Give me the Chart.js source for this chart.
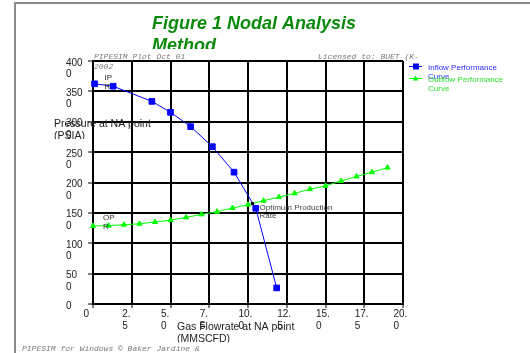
<!DOCTYPE html>
<html>
<head>
<meta charset="utf-8">
<script src="https://cdn.jsdelivr.net/npm/chart.js@4.4.1/dist/chart.umd.min.js"></script>
<style>
  html, body { margin: 0; padding: 0; background: #fff; }
  canvas { display: block; }
</style>
</head>
<body>
<canvas id="nodal" width="530" height="353"></canvas>
<script>
// Inflow performance curve (reservoir side)
const iprRate = [0.1, 1.3, 3.8, 5.0, 6.3, 7.7, 9.1, 10.5, 11.85];
const iprPressure = [3625, 3585, 3335, 3155, 2920, 2590, 2170, 1575, 265];

// Outflow performance curve (tubing side)
const oprRate = [0, 1, 2, 3, 4, 5, 6, 7, 8, 9, 10, 11, 12, 13, 14, 15, 16, 17, 18, 19];
const oprPressure = [1285, 1290, 1305, 1320, 1350, 1380, 1425, 1475, 1520, 1580,
                     1635, 1700, 1760, 1820, 1890, 1945, 2025, 2100, 2170, 2245];

// Intersection of the two curves
const optimumRate = [10.29];
const optimumPressure = [1652];

// Axis tick labels, wrapped the way the plotting package prints them
const rateTickLabels = [['0', ''], ['2.', '5'], ['5.', '0'], ['7.', '5'], ['10.', '0'],
                        ['12.', '5'], ['15.', '0'], ['17.', '5'], ['20.', '0']];
const pressureTickLabels = [['0', ''], ['50', '0'], ['100', '0'], ['150', '0'], ['200', '0'],
                            ['250', '0'], ['300', '0'], ['350', '0'], ['400', '0']];

const seriesNames = ['Inflow Performance Curve', 'Outflow Performance Curve'];
const SANS = '"Liberation Sans", Arial, sans-serif';
const MONO = '"Liberation Mono", "Courier New", monospace';

function toPoints(xs, ys) { return xs.map((x, i) => ({ x: x, y: ys[i] })); }

function lines(ctx, arr, x, y0, step, font, color, align) {
  ctx.font = font;
  ctx.fillStyle = color;
  ctx.textAlign = align || 'left';
  ctx.textBaseline = 'middle';
  arr.forEach((s, i) => ctx.fillText(s, x, y0 + i * step));
}

const decorations = {
  id: 'decorations',
  afterDraw(chart) {
    const ctx = chart.ctx;
    const xs = chart.scales.x, ys = chart.scales.y;
    ctx.save();

    // page frame
    ctx.strokeStyle = '#8a8a8a';
    ctx.lineWidth = 2;
    ctx.beginPath();
    ctx.moveTo(15, 353); ctx.lineTo(15, 3); ctx.lineTo(530, 3);
    ctx.stroke();

    // title, second line cut by its text box
    ctx.font = 'italic bold 18px ' + SANS;
    ctx.fillStyle = '#0a8a0a';
    ctx.textAlign = 'left';
    ctx.textBaseline = 'alphabetic';
    ctx.fillText('Figure 1 Nodal Analysis', 152, 29);
    ctx.save();
    ctx.beginPath(); ctx.rect(0, 0, 530, 49); ctx.clip();
    ctx.fillText('Method', 152, 50.5);
    ctx.restore();

    // plot stamp lines
    const stamp = 'italic 8px ' + MONO;
    lines(ctx, ['PIPESIM Plot Oct 01', '2002'], 94, 57, 9.5, stamp, '#7a7a7a');
    lines(ctx, ['Licensed to: BUET (K-'], 318, 57, 9.5, stamp, '#7a7a7a');
    lines(ctx, ['PIPESIM for Windows \u00a9 Baker Jardine &'], 22, 348.5, 9.5, stamp, '#7a7a7a');

    // axis titles, second lines cut by their text boxes
    const axisFont = '10.5px ' + SANS;
    lines(ctx, ['Pressure at NA point'], 54, 124, 12, axisFont, '#222');
    ctx.save();
    ctx.beginPath(); ctx.rect(0, 0, 530, 139); ctx.clip();
    lines(ctx, ['(PSIA)'], 54, 136.5, 12, axisFont, '#222');
    ctx.restore();
    lines(ctx, ['Gas Flowrate at NA point'], 177, 327, 12, axisFont, '#222');
    ctx.save();
    ctx.beginPath(); ctx.rect(0, 0, 530, 342.5); ctx.clip();
    lines(ctx, ['(MMSCFD)'], 177, 339.5, 12, axisFont, '#222');
    ctx.restore();

    // curve tags
    const tagFont = '8px ' + SANS;
    const ipx = xs.getPixelForValue(iprRate[0]), ipy = ys.getPixelForValue(iprPressure[0]);
    lines(ctx, ['IP', 'R'], ipx + 10, ipy - 5.5, 9, tagFont, '#333');
    const opx = xs.getPixelForValue(oprRate[0]), opy = ys.getPixelForValue(oprPressure[0]);
    lines(ctx, ['OP', 'R'], opx + 10, opy - 8.5, 9.5, tagFont, '#333');
    const ox = xs.getPixelForValue(optimumRate[0]), oy = ys.getPixelForValue(optimumPressure[0]);
    lines(ctx, ['Optimum Production', 'Rate'], ox + 7, oy + 4, 8.5, tagFont, '#444');

    // legend
    const ds = chart.data.datasets;
    ctx.lineWidth = 1;
    ctx.strokeStyle = ds[0].borderColor;
    ctx.beginPath(); ctx.moveTo(409, 66.5); ctx.lineTo(422, 66.5); ctx.stroke();
    ctx.fillStyle = ds[0].backgroundColor;
    ctx.fillRect(413, 63.5, 6, 6);
    ctx.strokeStyle = ds[1].borderColor;
    ctx.beginPath(); ctx.moveTo(409, 78.5); ctx.lineTo(422, 78.5); ctx.stroke();
    ctx.fillStyle = ds[1].backgroundColor;
    ctx.beginPath(); ctx.moveTo(415.5, 75.5); ctx.lineTo(418.5, 80.5); ctx.lineTo(412.5, 80.5); ctx.closePath(); ctx.fill();
    lines(ctx, ['Inflow Performance', 'Curve'], 428, 68, 8.5, tagFont, '#2b2bff');
    lines(ctx, ['Outflow Performance', 'Curve'], 428, 80, 9, tagFont, '#2fe02f');

    ctx.restore();
  }
};

new Chart(document.getElementById('nodal'), {
  type: 'scatter',
  data: {
    datasets: [
      {
        label: seriesNames[0],
        data: toPoints(iprRate, iprPressure),
        showLine: true,
        clip: 8,
        borderColor: '#0000ff',
        backgroundColor: '#0000ff',
        borderWidth: 1,
        pointStyle: 'rect',
        pointRadius: 4,
        pointBorderWidth: 1,
        order: 1
      },
      {
        label: seriesNames[1],
        data: toPoints(oprRate, oprPressure),
        showLine: true,
        clip: 8,
        borderColor: '#00ff00',
        backgroundColor: '#00ff00',
        borderWidth: 1,
        pointStyle: 'triangle',
        pointRadius: 3,
        pointBorderWidth: 1,
        order: 2
      },
      {
        label: 'Optimum Production Rate',
        data: toPoints(optimumRate, optimumPressure),
        showLine: false,
        borderColor: '#000',
        backgroundColor: '#000',
        pointStyle: 'rect',
        pointRadius: 1.6,
        order: 0
      }
    ]
  },
  options: {
    responsive: false,
    animation: false,
    events: [],
    layout: { padding: { left: 66, top: 61, right: 127, bottom: 0 } },
    plugins: { legend: { display: false }, tooltip: { enabled: false }, title: { display: false } },
    scales: {
      x: {
        type: 'linear',
        min: 0, max: 20,
        afterFit: s => { s.height = 49; },
        grid: { color: '#000', lineWidth: 2, tickLength: 4, tickColor: '#000', tickWidth: 1 },
        border: { color: '#000', width: 2 },
        ticks: {
          stepSize: 2.5,
          autoSkip: false,
          maxRotation: 0,
          align: 'start',
          labelOffset: -9.5,
          padding: 0,
          color: '#222',
          font: { family: SANS, size: 10, lineHeight: 1.2 },
          callback: v => rateTickLabels[Math.round(v / 2.5)]
        }
      },
      y: {
        type: 'linear',
        min: 0, max: 4000,
        afterFit: s => { s.width = 27; },
        grid: { color: '#000', lineWidth: 2, tickLength: 5, tickColor: '#000', tickWidth: 1 },
        border: { color: '#000', width: 2 },
        ticks: {
          stepSize: 500,
          autoSkip: false,
          crossAlign: 'far',
          labelOffset: 7.5,
          color: '#222',
          font: { family: SANS, size: 10, lineHeight: 1.15 },
          callback: v => pressureTickLabels[Math.round(v / 500)]
        }
      }
    }
  },
  plugins: [decorations]
});
</script>
</body>
</html>
